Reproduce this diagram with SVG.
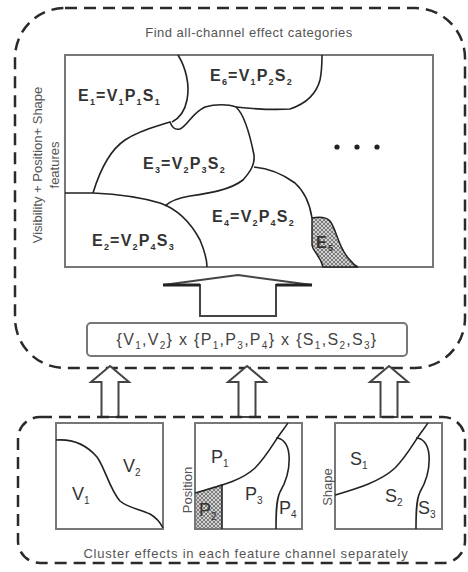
<svg xmlns="http://www.w3.org/2000/svg" width="468" height="572" viewBox="0 0 468 572">
<style>
.dash{fill:none;stroke:#2a2a2a;stroke-width:2.5;stroke-dasharray:12 7}
.box{fill:#fff;stroke:#777;stroke-width:2}
.cv{fill:none;stroke:#222;stroke-width:1.6}
.lb{font-family:"Liberation Sans",Arial,sans-serif;font-weight:bold;font-size:16px;fill:#333;letter-spacing:1.2px}
.sm{font-family:"Liberation Sans",Arial,sans-serif;font-size:13px;fill:#555}
.fm{font-family:"Liberation Sans",Arial,sans-serif;font-size:16px;fill:#444;letter-spacing:1.3px}
.cl{font-family:"Liberation Sans",Arial,sans-serif;font-size:18px;fill:#333}
.sb{font-size:9px}
.sb2{font-size:10px}
.arr{fill:#fff;stroke:#444;stroke-width:2;stroke-linejoin:miter}
</style>
<defs>
<pattern id="hatch" width="4" height="4" patternUnits="userSpaceOnUse">
<rect width="4" height="4" fill="#d0d0d0"/>
<path d="M0,0 L4,4 M4,0 L0,4" stroke="#444" stroke-width="0.6"/>
</pattern>
</defs>

<g id="top-group">
<rect x="15" y="8" width="450" height="360" rx="50" ry="50" class="dash"/>
<text x="249" y="37" text-anchor="middle" class="sm" letter-spacing="0.5">Find all-channel effect categories</text>
<text transform="translate(42,165) rotate(-90)" text-anchor="middle" class="sm" font-size="14">Visibility + Position+ Shape</text>
<text transform="translate(59,165) rotate(-90)" text-anchor="middle" class="sm" font-size="14">features</text>
</g>

<g id="effect-map">
<rect x="65" y="55" width="368" height="212" class="box"/>
<path d="M323,267 C320,255 313,252 312,245 L312,218 C318,217 326,217 330,221 C337,230 338,248 350,260 C353,264 356,266 358,267 Z" fill="url(#hatch)" stroke="#222" stroke-width="1.5"/>
<path class="cv" d="M178,55 C186,68 190,85 187,100 C185,110 180,118 172,122"/>
<path class="cv" d="M93,193 C100,170 110,150 125,140 C140,130 158,126 170,122 C172,127 174,130 180,129 C188,125 192,113 205,107 C215,104 228,104 236,107 C245,115 250,135 254,155 C255,165 250,172 243,180 C230,190 210,193 190,196 C178,198 170,201 165,206"/>
<path class="cv" d="M236,107 C255,109 275,110 290,109 C305,104 316,95 320,80 C322,70 322,60 322,55"/>
<path class="cv" d="M65,193 L93,193 C115,194 140,197 160,203 C180,210 192,225 200,240 C205,252 207,260 207,267"/>
<path class="cv" d="M254,167 C265,168 280,172 295,183 C305,192 310,205 312,218"/>
<circle cx="337" cy="147" r="2.6" fill="#222"/>
<circle cx="357" cy="147" r="2.6" fill="#222"/>
<circle cx="377" cy="147" r="2.6" fill="#222"/>
</g>

<g id="label-e1"><text x="78" y="101" class="lb">E<tspan class="sb" dy="4">1</tspan><tspan dy="-4">=V</tspan><tspan class="sb" dy="4">1</tspan><tspan dy="-4">P</tspan><tspan class="sb" dy="4">1</tspan><tspan dy="-4">S</tspan><tspan class="sb" dy="4">1</tspan></text></g>
<g id="label-e6"><text x="210" y="81" class="lb">E<tspan class="sb" dy="4">6</tspan><tspan dy="-4">=V</tspan><tspan class="sb" dy="4">1</tspan><tspan dy="-4">P</tspan><tspan class="sb" dy="4">2</tspan><tspan dy="-4">S</tspan><tspan class="sb" dy="4">2</tspan></text></g>
<g id="label-e3"><text x="143" y="169" class="lb">E<tspan class="sb" dy="4">3</tspan><tspan dy="-4">=V</tspan><tspan class="sb" dy="4">2</tspan><tspan dy="-4">P</tspan><tspan class="sb" dy="4">3</tspan><tspan dy="-4">S</tspan><tspan class="sb" dy="4">2</tspan></text></g>
<g id="label-e2"><text x="92" y="246" class="lb">E<tspan class="sb" dy="4">2</tspan><tspan dy="-4">=V</tspan><tspan class="sb" dy="4">2</tspan><tspan dy="-4">P</tspan><tspan class="sb" dy="4">4</tspan><tspan dy="-4">S</tspan><tspan class="sb" dy="4">3</tspan></text></g>
<g id="label-e4"><text x="212" y="222" class="lb">E<tspan class="sb" dy="4">4</tspan><tspan dy="-4">=V</tspan><tspan class="sb" dy="4">2</tspan><tspan dy="-4">P</tspan><tspan class="sb" dy="4">4</tspan><tspan dy="-4">S</tspan><tspan class="sb" dy="4">2</tspan></text></g>
<g id="label-e5"><text x="316" y="248" class="lb" font-size="12">E<tspan class="sb" dy="3">5</tspan></text></g>

<g id="connectors">
<polygon class="arr" points="238,275 312,285 276,285 276,316 200,316 200,285 163,285"/>
<path d="M163,285 L200,285 M276,285 L312,285" stroke="#222" stroke-width="3"/>
<polygon class="arr" points="110,366 129,382 118.5,382 118.5,417 101.5,417 101.5,382 91,382"/>
<polygon class="arr" points="247,366 266,382 255.5,382 255.5,417 238.5,417 238.5,382 228,382"/>
<polygon class="arr" points="389,366 408,382 397.5,382 397.5,417 380.5,417 380.5,382 370,382"/>
</g>

<g id="product-box">
<rect x="87" y="323" width="320" height="33" rx="4" ry="4" class="box"/>
<text x="247" y="345" text-anchor="middle" class="fm">{V<tspan class="sb2" dy="4">1</tspan><tspan dy="-4">,V</tspan><tspan class="sb2" dy="4">2</tspan><tspan dy="-4">} x {P</tspan><tspan class="sb2" dy="4">1</tspan><tspan dy="-4">,P</tspan><tspan class="sb2" dy="4">3</tspan><tspan dy="-4">,P</tspan><tspan class="sb2" dy="4">4</tspan><tspan dy="-4">} x {S</tspan><tspan class="sb2" dy="4">1</tspan><tspan dy="-4">,S</tspan><tspan class="sb2" dy="4">2</tspan><tspan dy="-4">,S</tspan><tspan class="sb2" dy="4">3</tspan><tspan dy="-4">}</tspan></text>
</g>

<g id="bottom-group">
<rect x="18" y="417" width="447" height="146" rx="22" ry="22" class="dash"/>
<text x="246" y="558" text-anchor="middle" class="sm" font-size="13.5" letter-spacing="0.8">Cluster effects in each feature channel separately</text>
</g>

<g id="visibility-box">
<rect x="56" y="423" width="107" height="106" class="box" stroke="#333"/>
<path class="cv" d="M56,440 C70,439 85,443 97,457 C105,468 110,490 120,501 C128,508 140,509 150,514 C157,518 161,524 163,528"/>
<text x="72" y="500" class="cl">V<tspan class="sb2" dy="4">1</tspan></text>
<text x="123" y="472" class="cl">V<tspan class="sb2" dy="4">2</tspan></text>
</g>

<g id="position-box">
<rect x="195" y="423" width="107" height="106" class="box" stroke="#333"/>
<path d="M196,493 C205,489 215,486 222,484 L222,528 L196,528 Z" fill="url(#hatch)" stroke="none"/>
<path class="cv" d="M195,493 C215,487 240,482 255,468 C268,455 275,440 283,430 C286,426 287,424 288,423"/>
<path class="cv" d="M276,438 C282,438 288,443 289,455 C290,468 287,480 280,492 C276,500 276,515 276,529"/>
<path class="cv" d="M222,484 L222,529"/>
<text transform="translate(192,490) rotate(-90)" text-anchor="middle" class="sm" font-size="12">Position</text>
<text x="211" y="463" class="cl">P<tspan class="sb2" dy="4">1</tspan></text>
<text x="199" y="516" class="cl">P<tspan class="sb2" dy="4">2</tspan></text>
<text x="245" y="500" class="cl">P<tspan class="sb2" dy="4">3</tspan></text>
<text x="279" y="514" class="cl">P<tspan class="sb2" dy="4">4</tspan></text>
</g>

<g id="shape-box">
<rect x="335" y="423" width="107" height="106" class="box" stroke="#333"/>
<path class="cv" d="M335,495 C355,489 380,482 395,468 C408,455 415,440 423,430 C426,426 427,424 428,423"/>
<path class="cv" d="M416,438 C422,438 428,443 429,455 C430,468 427,480 420,492 C416,500 416,515 416,529"/>
<text transform="translate(332,487) rotate(-90)" text-anchor="middle" class="sm" font-size="12">Shape</text>
<text x="350" y="465" class="cl">S<tspan class="sb2" dy="4">1</tspan></text>
<text x="385" y="502" class="cl">S<tspan class="sb2" dy="4">2</tspan></text>
<text x="418" y="514" class="cl">S<tspan class="sb2" dy="4">3</tspan></text>
</g>
</svg>
